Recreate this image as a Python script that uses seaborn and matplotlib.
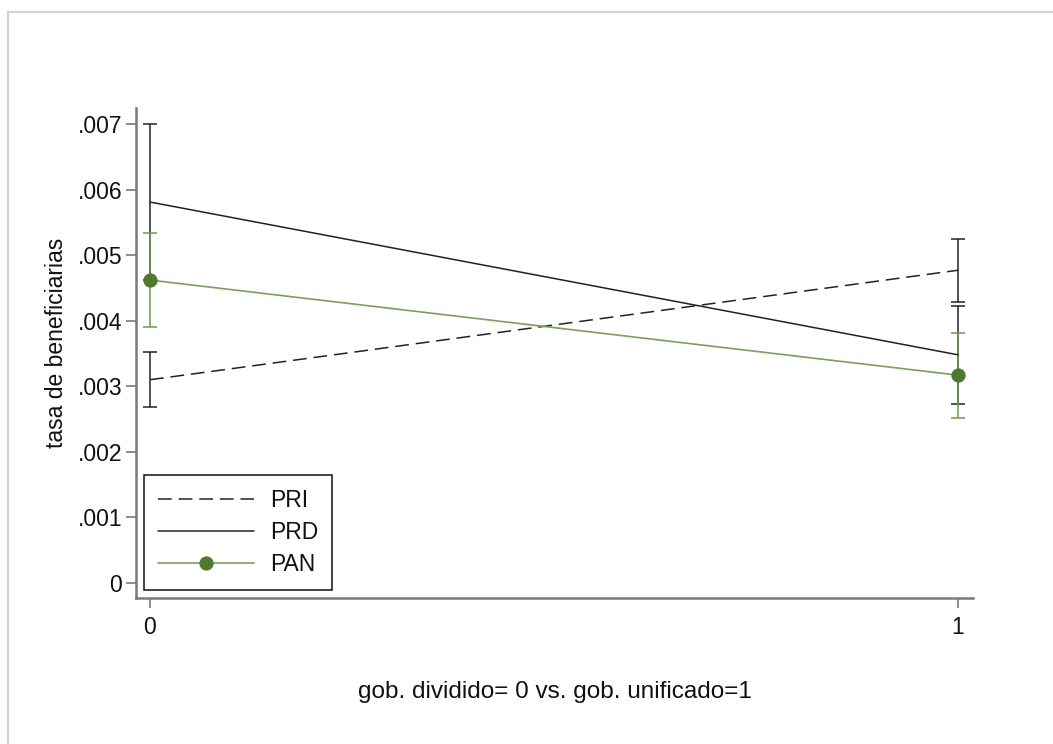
import matplotlib
matplotlib.use("Agg")
import matplotlib.pyplot as plt
from matplotlib.lines import Line2D
import seaborn as sns
import pandas as pd
import numpy as np

# ---- data ----
x_vals = [0, 1]
x_ticklabels = ["0", "1"]
y_ticks = [0, 0.001, 0.002, 0.003, 0.004, 0.005, 0.006, 0.007]
y_ticklabels = ["0", ".001", ".002", ".003", ".004", ".005", ".006", ".007"]

pri_mean = [0.00310, 0.00477]
pri_lo = [0.00268, 0.00429]
pri_hi = [0.00352, 0.00525]

prd_mean = [0.00581, 0.00348]
prd_lo = [0.00462, 0.00273]
prd_hi = [0.00700, 0.00423]

pan_mean = [0.00462, 0.00317]
pan_lo = [0.00391, 0.00252]
pan_hi = [0.00534, 0.00381]

series_names = ["PRI", "PRD", "PAN"]
xlabel = "gob. dividido= 0 vs. gob. unificado=1"
ylabel = "tasa de beneficiarias"

# ---- style ----
sns.set_style("white")
plt.rcParams["font.family"] = ["Liberation Sans", "DejaVu Sans"]

W, H, DPI = 1053, 744, 100
fig = plt.figure(figsize=(W / DPI, H / DPI), dpi=DPI)
ax = fig.add_axes([136 / W, 1 - 598 / H, (973 - 136) / W, (598 - 108) / H])

black = "#222222"
green_line = "#78a05a"
green_mark = "#4f7a2e"
green_ci = "#6e9a4e"
FS = 16.5

df = pd.DataFrame({
    "x": x_vals * 3,
    "y": pri_mean + prd_mean + pan_mean,
    "party": ["PRI"] * 2 + ["PRD"] * 2 + ["PAN"] * 2,
})

# confidence intervals
def ci(mean, lo, hi, color, z):
    m = np.array(mean)
    yerr = np.vstack([m - np.array(lo), np.array(hi) - m])
    ax.errorbar(x_vals, m, yerr=yerr, fmt="none", ecolor=color,
                elinewidth=1.1, capsize=4.8, capthick=1.1, zorder=z)

ci(pri_mean, pri_lo, pri_hi, black, 2)
ci(prd_mean, prd_lo, prd_hi, black, 2)
ci(pan_mean, pan_lo, pan_hi, green_ci, 3)

sns.lineplot(data=df[df.party == "PRI"], x="x", y="y", ax=ax, color=black,
             linewidth=1.1, label="PRI", errorbar=None, zorder=4)
ax.lines[-1].set_dashes([9, 4.5])
sns.lineplot(data=df[df.party == "PRD"], x="x", y="y", ax=ax, color=black,
             linewidth=1.1, label="PRD", errorbar=None, zorder=4)
sns.lineplot(data=df[df.party == "PAN"], x="x", y="y", ax=ax, color=green_line,
             linewidth=1.2, marker="o", markersize=9.5, markerfacecolor=green_mark,
             markeredgecolor=green_mark, label="PAN", errorbar=None, zorder=5)

ax.set_xlim(-14 / 808, 1 + 15 / 808)
ax.set_ylim(-15 / 65.57 * 0.001, (583 - 108) / 65.57 * 0.001)
ax.set_xticks(x_vals)
ax.set_xticklabels(x_ticklabels)
ax.set_yticks(y_ticks)
ax.set_yticklabels(y_ticklabels)

for s in ["top", "right"]:
    ax.spines[s].set_visible(False)
for s in ["left", "bottom"]:
    ax.spines[s].set_color("#7a7a7a")
    ax.spines[s].set_linewidth(1.8)

ax.tick_params(axis="both", which="major", direction="out", length=7, width=1.2,
               color="#7a7a7a", labelsize=FS, labelcolor="#111111",
               left=True, bottom=True)
ax.tick_params(axis="y", pad=3)
ax.tick_params(axis="x", pad=6)

ax.set_xlabel(xlabel, fontsize=17.5, color="#111111", labelpad=30)
ax.set_ylabel(ylabel, fontsize=FS, color="#111111", labelpad=8)
ax.yaxis.set_label_coords(-0.081, 0.52)

leg = ax.legend(loc="lower left", bbox_to_anchor=(8 / 837, 8 / 490),
                borderaxespad=0, frameon=True, fancybox=False, fontsize=FS,
                handlelength=4.2, handletextpad=0.7, labelspacing=0.4,
                borderpad=0.6, edgecolor="#111111", framealpha=1)
leg.get_frame().set_linewidth(1.1)
for t in leg.get_texts():
    t.set_color("#111111")

# outer light frame (left and top edges only visible)
fig.add_artist(Line2D([7.5 / W, 7.5 / W], [0, 1 - 11.5 / H], transform=fig.transFigure,
                      color="#d2d2d2", linewidth=1.6))
fig.add_artist(Line2D([7.5 / W, 1], [1 - 11.5 / H, 1 - 11.5 / H], transform=fig.transFigure,
                      color="#d2d2d2", linewidth=1.6))

fig.savefig("out.png", dpi=DPI)
